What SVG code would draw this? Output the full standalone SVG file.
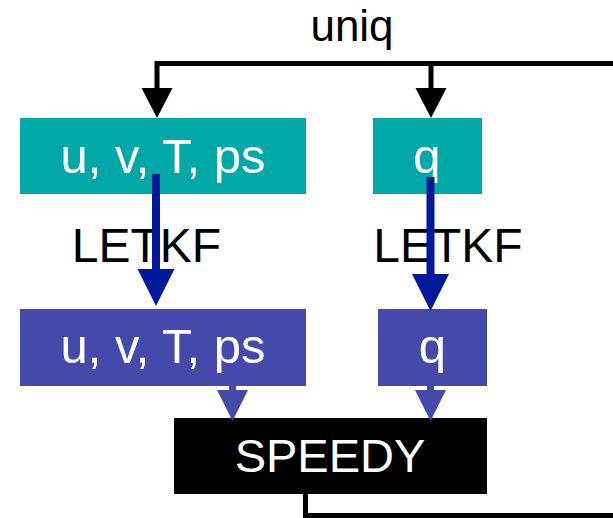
<svg xmlns="http://www.w3.org/2000/svg" width="613" height="518" viewBox="0 0 613 518">
<defs>
<style>
text{font-family:"Liberation Sans",Arial,sans-serif;text-anchor:middle}
.lbl{fill:#000}
.wt{fill:#fff}
.teal{fill:#00A8A8}
.purp{fill:#4549A9}
.blk{stroke:#000;stroke-width:5;fill:none}
.blu{stroke:#00189A;stroke-width:8;fill:none}
.pst{stroke:#4549A9;stroke-width:7;fill:none}
</style>
<marker id="hk" markerUnits="userSpaceOnUse" markerWidth="30" markerHeight="31" refX="0" refY="15.5" orient="auto" overflow="visible"><path d="M0,0 L30,15.5 L0,31 z" fill="#000"/></marker>
<marker id="hb" markerUnits="userSpaceOnUse" markerWidth="37" markerHeight="37" refX="0" refY="18.5" orient="auto" overflow="visible"><path d="M0,0 L37,18.5 L0,37 z" fill="#00189A"/></marker>
<marker id="hp" markerUnits="userSpaceOnUse" markerWidth="31" markerHeight="31" refX="0" refY="15.5" orient="auto" overflow="visible"><path d="M0,0 L31,15.5 L0,31 z" fill="#4549A9"/></marker>
</defs>
<rect width="613" height="518" fill="#fff"/>
<text class="lbl" x="352" y="41" font-size="44">uniq</text>
<g id="in-uvtps"><rect class="teal" x="20" y="118" width="286" height="76"/><text class="wt" x="163" y="173" font-size="49">u, v, T, ps</text></g>
<g id="in-q"><rect class="teal" x="373" y="118" width="109" height="76"/><text class="wt" x="427" y="173" font-size="49">q</text></g>
<text class="lbl" x="146.5" y="262" font-size="48">LETKF</text>
<text class="lbl" x="448" y="262" font-size="48">LETKF</text>
<g id="out-uvtps"><rect class="purp" x="20" y="309" width="286" height="77"/><text class="wt" x="163" y="363" font-size="49">u, v, T, ps</text></g>
<g id="out-q"><rect class="purp" x="378" y="309" width="109" height="77"/><text class="wt" x="432.5" y="363" font-size="49">q</text></g>
<g id="speedy"><rect x="174" y="418" width="313" height="76" fill="#000"/><text class="wt" x="330" y="472" font-size="47">SPEEDY</text></g>
<g id="connectors">
<path class="blk" d="M613,63.5 H157 V88" marker-end="url(#hk)"/>
<path class="blk" d="M431,63.5 V88" marker-end="url(#hk)"/>
<path class="blk" d="M305.5,494 V515.5 H613"/>
<path class="blu" d="M156,174 V269" marker-end="url(#hb)"/>
<path class="blu" d="M430.5,177 V274" marker-end="url(#hb)"/>
<path class="pst" d="M232.5,386 V390" marker-end="url(#hp)"/>
<path class="pst" d="M430.5,386 V390" marker-end="url(#hp)"/>
</g>
</svg>
